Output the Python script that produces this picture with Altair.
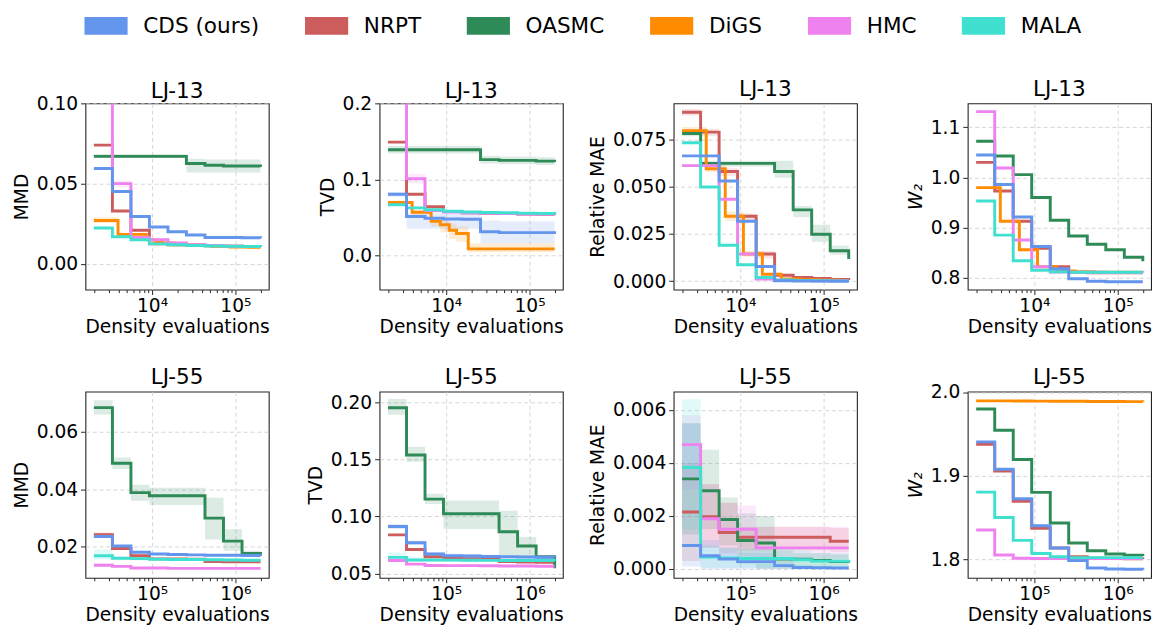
import altair as alt
import pandas as pd

METHODS = ["CDS (ours)", "NRPT", "OASMC", "DiGS", "HMC", "MALA"]
COLORS = ["#6495ED", "#CD5C5C", "#2E8B57", "#FF8C00", "#EE82EE", "#40E0D0"]
DRAW_ORDER = ["NRPT", "OASMC", "DiGS", "HMC", "MALA", "CDS (ours)"]

# density-evaluation checkpoints
EVALS_LJ13 = [2000, 3340, 5570, 9280, 15500, 25800, 43100, 71900, 120000, 200000]
EVALS_LJ13_DIGS = [2000, 3900, 6600, 8500, 10900, 13300, 18400, 31000, 52000, 86000, 144000, 200000]
EVALS_LJ55 = [20000, 33400, 55700, 92800, 155000, 258000, 431000, 719000, 1200000, 2000000]

XDOMAIN_LJ13 = [1585, 251189]
XDOMAIN_LJ55 = [15849, 2511886]
XTICKS_LJ13 = [2000, 3000, 4000, 5000, 6000, 7000, 8000, 9000, 10000,
               20000, 30000, 40000, 50000, 60000, 70000, 80000, 90000, 100000, 200000]
XTICKS_LJ55 = [20000, 30000, 40000, 50000, 60000, 70000, 80000, 90000, 100000,
               200000, 300000, 400000, 500000, 600000, 700000, 800000, 900000, 1000000, 2000000]

# ---------------- LJ-13 ----------------
LJ13_MMD = {
    "CDS (ours)": [0.0594, 0.0451, 0.0295, 0.0230, 0.0200, 0.0180, 0.0165, 0.0165, 0.0163, 0.0160],
    "NRPT": [0.0740, 0.0330, 0.0210, 0.0125, 0.0120, 0.0118, 0.0113, 0.0110, 0.0108, 0.0105],
    "OASMC": [0.0670, 0.0670, 0.0670, 0.0670, 0.0670, 0.0625, 0.0615, 0.0610, 0.0610, 0.0605],
    "DiGS": [0.0271, 0.0184, 0.0184, 0.0150, 0.0140, 0.0130, 0.0120, 0.0115, 0.0110, 0.0105, 0.0103, 0.0103],
    "HMC": [0.2500, 0.0500, 0.0165, 0.0150, 0.0130, 0.0120, 0.0115, 0.0110, 0.0108, 0.0105],
    "MALA": [0.0224, 0.0169, 0.0150, 0.0125, 0.0120, 0.0115, 0.0112, 0.0110, 0.0108, 0.0105],
}
LJ13_MMD_BAND = {
    "OASMC": ([0.0660, 0.0660, 0.0660, 0.0660, 0.0660, 0.0570, 0.0570, 0.0570, 0.0570, 0.0570],
              [0.0685, 0.0685, 0.0685, 0.0685, 0.0685, 0.0655, 0.0650, 0.0650, 0.0650, 0.0650]),
    "HMC": ([0.2400, 0.0480, 0.0155, 0.0142, 0.0124, 0.0115, 0.0110, 0.0105, 0.0104, 0.0100],
            [0.2600, 0.0520, 0.0175, 0.0158, 0.0136, 0.0125, 0.0120, 0.0115, 0.0112, 0.0110]),
    "DiGS": ([0.0255, 0.0175, 0.0175, 0.0143, 0.0134, 0.0124, 0.0115, 0.0110, 0.0105, 0.0100, 0.0098, 0.0098],
             [0.0290, 0.0193, 0.0193, 0.0157, 0.0146, 0.0136, 0.0125, 0.0120, 0.0115, 0.0110, 0.0108, 0.0108]),
}

LJ13_TVD = {
    "CDS (ours)": [0.0805, 0.0512, 0.0490, 0.0480, 0.0475, 0.0310, 0.0300, 0.0300, 0.0300, 0.0280],
    "NRPT": [0.1490, 0.0805, 0.0640, 0.0577, 0.0560, 0.0555, 0.0550, 0.0545, 0.0540, 0.0535],
    "OASMC": [0.1390, 0.1390, 0.1390, 0.1390, 0.1390, 0.1260, 0.1250, 0.1250, 0.1240, 0.1230],
    "DiGS": [0.0697, 0.0568, 0.0448, 0.0404, 0.0332, 0.0288, 0.0086, 0.0086, 0.0086, 0.0086, 0.0086, 0.0086],
    "HMC": [0.5000, 0.1010, 0.0590, 0.0570, 0.0560, 0.0555, 0.0550, 0.0545, 0.0540, 0.0540],
    "MALA": [0.0667, 0.0625, 0.0600, 0.0580, 0.0570, 0.0565, 0.0560, 0.0555, 0.0550, 0.0540],
}
LJ13_TVD_BAND = {
    "OASMC": ([0.134, 0.134, 0.134, 0.134, 0.134, 0.121, 0.120, 0.120, 0.119, 0.118],
              [0.144, 0.144, 0.144, 0.144, 0.144, 0.131, 0.130, 0.130, 0.129, 0.128]),
    "CDS (ours)": ([0.077, 0.035, 0.035, 0.035, 0.035, 0.016, 0.016, 0.016, 0.016, 0.015],
                   [0.083, 0.055, 0.055, 0.055, 0.055, 0.046, 0.045, 0.045, 0.045, 0.044]),
    "DiGS": ([0.067, 0.053, 0.038, 0.030, 0.022, 0.018, 0.004, 0.004, 0.004, 0.004, 0.004, 0.004],
             [0.072, 0.060, 0.050, 0.048, 0.042, 0.038, 0.016, 0.016, 0.016, 0.016, 0.016, 0.016]),
    "HMC": ([0.490, 0.095, 0.056, 0.055, 0.054, 0.0535, 0.053, 0.0525, 0.052, 0.052],
            [0.510, 0.107, 0.062, 0.059, 0.058, 0.0575, 0.057, 0.0565, 0.056, 0.056]),
}

LJ13_MAE = {
    "CDS (ours)": [0.0666, 0.0666, 0.0532, 0.0318, 0.0078, 0.0002, 0.0001, 0.0000, 0.0000, 0.0000],
    "NRPT": [0.0898, 0.0792, 0.0583, 0.0345, 0.0144, 0.0031, 0.0019, 0.0014, 0.0009, 0.0006],
    "OASMC": [0.0785, 0.0626, 0.0626, 0.0626, 0.0626, 0.0583, 0.0379, 0.0249, 0.0162, 0.0118],
    "DiGS": [0.0800, 0.0597, 0.0345, 0.0345, 0.0144, 0.0144, 0.0037, 0.0012, 0.0008, 0.0005, 0.0003, 0.0003],
    "HMC": [0.0614, 0.0614, 0.0435, 0.0144, 0.0011, 0.0005, 0.0003, 0.0002, 0.0001, 0.0001],
    "MALA": [0.0736, 0.0500, 0.0191, 0.0087, 0.0019, 0.0006, 0.0003, 0.0002, 0.0001, 0.0001],
}
LJ13_MAE_BAND = {
    "OASMC": ([0.0770, 0.0610, 0.0610, 0.0610, 0.0610, 0.0550, 0.0340, 0.0210, 0.0140, 0.0100],
              [0.0800, 0.0640, 0.0640, 0.0640, 0.0640, 0.0640, 0.0400, 0.0300, 0.0190, 0.0140]),
    "NRPT": ([0.0880, 0.0770, 0.0560, 0.0320, 0.0120, 0.0020, 0.0010, 0.0008, 0.0004, 0.0002],
             [0.0915, 0.0810, 0.0600, 0.0360, 0.0160, 0.0040, 0.0027, 0.0020, 0.0014, 0.0010]),
    "DiGS": ([0.0780, 0.0580, 0.0320, 0.0320, 0.0130, 0.0130, 0.0030, 0.0008, 0.0005, 0.0003, 0.0001, 0.0001],
             [0.0820, 0.0620, 0.0370, 0.0370, 0.0160, 0.0160, 0.0045, 0.0016, 0.0011, 0.0007, 0.0005, 0.0005]),
}

LJ13_W2 = {
    "CDS (ours)": [1.0446, 0.9860, 0.9210, 0.8625, 0.8180, 0.7980, 0.7930, 0.7920, 0.7920, 0.7920],
    "NRPT": [1.0300, 0.9730, 0.9126, 0.8590, 0.8220, 0.8103, 0.8100, 0.8100, 0.8100, 0.8100],
    "OASMC": [1.0720, 1.0427, 1.0056, 0.9600, 0.9145, 0.8833, 0.8670, 0.8560, 0.8410, 0.8330],
    "DiGS": [0.9796, 0.9126, 0.8560, 0.8560, 0.8220, 0.8220, 0.8137, 0.8120, 0.8110, 0.8110, 0.8110, 0.8110],
    "HMC": [1.1310, 1.0187, 0.8755, 0.8220, 0.8117, 0.8110, 0.8110, 0.8105, 0.8105, 0.8100],
    "MALA": [0.9530, 0.8850, 0.8340, 0.8150, 0.8120, 0.8110, 0.8110, 0.8110, 0.8110, 0.8110],
}

# ---------------- LJ-55 ----------------
LJ55_MMD = {
    "CDS (ours)": [0.0235, 0.0202, 0.0180, 0.0174, 0.0172, 0.0171, 0.0170, 0.0170, 0.0169, 0.0167],
    "NRPT": [0.0241, 0.0193, 0.0168, 0.0157, 0.0157, 0.0156, 0.0148, 0.0147, 0.0147, 0.0147],
    "OASMC": [0.0684, 0.0490, 0.0388, 0.0377, 0.0377, 0.0377, 0.0299, 0.0219, 0.0176, 0.0168],
    "HMC": [0.0135, 0.0131, 0.0125, 0.0125, 0.0124, 0.0124, 0.0124, 0.0124, 0.0124, 0.0124],
    "MALA": [0.0168, 0.0159, 0.0158, 0.0156, 0.0155, 0.0155, 0.0154, 0.0153, 0.0152, 0.0152],
}
LJ55_MMD_BAND = {
    "OASMC": ([0.0660, 0.0470, 0.0360, 0.0345, 0.0345, 0.0345, 0.0225, 0.0185, 0.0165, 0.0160],
              [0.0710, 0.0510, 0.0415, 0.0405, 0.0405, 0.0405, 0.0370, 0.0260, 0.0185, 0.0180]),
    "MALA": ([0.0155, 0.0153, 0.0152, 0.0151, 0.0150, 0.0150, 0.0149, 0.0148, 0.0147, 0.0147],
             [0.0190, 0.0165, 0.0164, 0.0161, 0.0160, 0.0160, 0.0159, 0.0158, 0.0157, 0.0157]),
    "NRPT": ([0.0232, 0.0187, 0.0163, 0.0153, 0.0153, 0.0152, 0.0145, 0.0144, 0.0144, 0.0144],
             [0.0250, 0.0199, 0.0173, 0.0161, 0.0161, 0.0160, 0.0151, 0.0150, 0.0150, 0.0150]),
    "HMC": ([0.0130, 0.0128, 0.0122, 0.0122, 0.0121, 0.0121, 0.0121, 0.0121, 0.0121, 0.0121],
            [0.0142, 0.0134, 0.0128, 0.0128, 0.0127, 0.0127, 0.0127, 0.0127, 0.0127, 0.0127]),
}

LJ55_TVD = {
    "CDS (ours)": [0.0913, 0.0770, 0.0671, 0.0657, 0.0655, 0.0650, 0.0648, 0.0645, 0.0643, 0.0640],
    "NRPT": [0.0839, 0.0711, 0.0648, 0.0640, 0.0630, 0.0628, 0.0605, 0.0602, 0.0600, 0.0597],
    "OASMC": [0.1952, 0.1539, 0.1152, 0.1024, 0.1024, 0.1024, 0.0867, 0.0742, 0.0648, 0.0548],
    "HMC": [0.0614, 0.0583, 0.0571, 0.0570, 0.0570, 0.0568, 0.0567, 0.0566, 0.0565, 0.0565],
    "MALA": [0.0642, 0.0620, 0.0619, 0.0618, 0.0617, 0.0616, 0.0615, 0.0614, 0.0614, 0.0613],
}
LJ55_TVD_BAND = {
    "OASMC": ([0.189, 0.148, 0.111, 0.089, 0.089, 0.089, 0.066, 0.065, 0.062, 0.055],
              [0.203, 0.161, 0.120, 0.114, 0.114, 0.114, 0.105, 0.082, 0.066, 0.065]),
    "MALA": ([0.0600, 0.0605, 0.0604, 0.0603, 0.0602, 0.0601, 0.0600, 0.0599, 0.0599, 0.0598],
             [0.0685, 0.0640, 0.0636, 0.0634, 0.0633, 0.0632, 0.0631, 0.0630, 0.0630, 0.0629]),
    "CDS (ours)": ([0.0890, 0.0750, 0.0655, 0.0640, 0.0638, 0.0634, 0.0632, 0.0630, 0.0628, 0.0625],
                   [0.0935, 0.0790, 0.0688, 0.0673, 0.0671, 0.0666, 0.0664, 0.0661, 0.0659, 0.0656]),
}

LJ55_MAE = {
    "CDS (ours)": [0.00089, 0.00050, 0.00038, 0.00028, 0.00028, 0.00013, 0.00006, 0.00005, 0.00004, 0.00004],
    "NRPT": [0.00215, 0.00197, 0.00138, 0.00120, 0.00120, 0.00120, 0.00120, 0.00120, 0.00105, 0.00105],
    "OASMC": [0.00340, 0.00295, 0.00187, 0.00108, 0.00098, 0.00038, 0.00037, 0.00032, 0.00028, 0.00025],
    "HMC": [0.00469, 0.00190, 0.00150, 0.00150, 0.00080, 0.00080, 0.00080, 0.00080, 0.00080, 0.00080],
    "MALA": [0.00383, 0.00045, 0.00042, 0.00040, 0.00040, 0.00040, 0.00035, 0.00030, 0.00030, 0.00025],
}
LJ55_MAE_BAND = {
    "MALA": ([0.00150, 0.00005, 0.00005, 0.00005, 0.00005, 0.00005, 0.00003, 0.00002, 0.00002, 0.00002],
             [0.00640, 0.00090, 0.00080, 0.00075, 0.00075, 0.00075, 0.00070, 0.00060, 0.00060, 0.00050]),
    "CDS (ours)": ([0.00010, 0.00000, 0.00000, 0.00000, 0.00000, 0.00000, 0.00000, 0.00000, 0.00000, 0.00000],
                   [0.00550, 0.00110, 0.00080, 0.00060, 0.00060, 0.00030, 0.00015, 0.00012, 0.00010, 0.00010]),
    "HMC": ([0.00300, 0.00080, 0.00050, 0.00050, 0.00040, 0.00040, 0.00040, 0.00040, 0.00040, 0.00040],
            [0.00580, 0.00320, 0.00250, 0.00240, 0.00160, 0.00160, 0.00160, 0.00160, 0.00160, 0.00160]),
    "NRPT": ([0.00030, 0.00080, 0.00060, 0.00070, 0.00070, 0.00070, 0.00070, 0.00070, 0.00065, 0.00065],
             [0.00400, 0.00320, 0.00250, 0.00160, 0.00160, 0.00160, 0.00160, 0.00160, 0.00155, 0.00155]),
    "OASMC": ([0.00130, 0.00150, 0.00090, 0.00020, 0.00000, 0.00000, 0.00000, 0.00000, 0.00000, 0.00000],
              [0.00550, 0.00450, 0.00270, 0.00210, 0.00200, 0.00070, 0.00060, 0.00060, 0.00055, 0.00050]),
}

LJ55_W2 = {
    "CDS (ours)": [1.9404, 1.9076, 1.8725, 1.8402, 1.8136, 1.7984, 1.7895, 1.7883, 1.7880, 1.7875],
    "NRPT": [1.9376, 1.9057, 1.8694, 1.8370, 1.8136, 1.8031, 1.8012, 1.8010, 1.8006, 1.8004],
    "OASMC": [1.9797, 1.9544, 1.9193, 1.8800, 1.8433, 1.8195, 1.8101, 1.8062, 1.8050, 1.8040],
    "DiGS": [1.9895, 1.9895, 1.9893, 1.9892, 1.9890, 1.9890, 1.9888, 1.9887, 1.9886, 1.9885],
    "HMC": [1.8351, 1.8051, 1.8012, 1.8010, 1.8010, 1.8010, 1.8010, 1.8010, 1.8010, 1.8010],
    "MALA": [1.8803, 1.8499, 1.8226, 1.8070, 1.8031, 1.8020, 1.8020, 1.8020, 1.8020, 1.8020],
}

FONT = "DejaVu Sans"
MAJOR = "abs(log(datum.value) / LN10 - round(log(datum.value) / LN10)) < 0.001"
LABEL_EXPR = ("datum.value == 1000 ? '10³' : datum.value == 10000 ? '10⁴' : "
              "datum.value == 100000 ? '10⁵' : datum.value == 1000000 ? '10⁶' : ''")

LEGEND = alt.Legend(
    orient="none", legendX=10, legendY=-90, direction="horizontal", columns=6,
    title=None, symbolType="M-2,-0.82H2V0.82H-2Z", symbolSize=484,
    symbolStrokeWidth=0, symbolOpacity=1, labelFontSize=22, labelFont=FONT,
    labelColor="black", labelOffset=27, columnPadding=46, padding=0, labelLimit=400,
)


def panel(title, ytitle, yfmt, ydomain, yticks, evals, digs_evals, xdomain, xticks,
          values, bands, title_dy, italic=False):
    rows = []
    for m in DRAW_ORDER:
        if m not in values:
            continue
        xs = digs_evals if m == "DiGS" else evals
        for x, v in zip(xs, values[m]):
            rows.append({"evals": x, "value": v, "method": m})
    line_df = pd.DataFrame(rows)

    xaxis = alt.Axis(
        values=xticks, labelExpr=LABEL_EXPR, title="Density evaluations",
        tickSize={"condition": {"test": MAJOR, "value": 5}, "value": 3},
        gridOpacity={"condition": {"test": MAJOR, "value": 1}, "value": 0},
        labelFlush=False, labelOverlap=False, labelPadding=2, titlePadding=3,
    )
    yaxis = alt.Axis(
        values=yticks, format=yfmt, title=ytitle, labelFlush=False, labelOverlap=False,
        titleFontStyle="italic" if italic else "normal",
    )
    xs = alt.Scale(type="log", domain=xdomain, nice=False)
    ys = alt.Scale(domain=ydomain, nice=False, zero=False)

    line = alt.Chart(line_df).mark_line(
        interpolate="step-after", strokeWidth=3, clip=True
    ).encode(
        x=alt.X("evals:Q", scale=xs, axis=xaxis),
        y=alt.Y("value:Q", scale=ys, axis=yaxis),
        color=alt.Color("method:N", scale=alt.Scale(domain=METHODS, range=COLORS), legend=None),
    )
    layers = []
    if bands:
        brow = []
        for m in DRAW_ORDER:
            if m not in bands:
                continue
            xs_ = digs_evals if m == "DiGS" else evals
            lo, hi = bands[m]
            for x, a, b in zip(xs_, lo, hi):
                brow.append({"evals": x, "lo": a, "hi": b, "method": m})
        band_df = pd.DataFrame(brow)
        area = alt.Chart(band_df).mark_area(
            interpolate="step-after", fillOpacity=0.17, clip=True
        ).encode(
            x=alt.X("evals:Q", scale=xs, axis=xaxis),
            y=alt.Y("lo:Q", scale=ys, axis=yaxis),
            y2="hi:Q",
            fill=alt.Fill("method:N", scale=alt.Scale(domain=METHODS, range=COLORS), legend=LEGEND),
        )
        layers.append(area)
    layers.append(line)
    return alt.layer(*layers).properties(
        width=187, height=190,
        title=alt.TitleParams(title, fontSize=22, fontWeight="normal", font=FONT, offset=4,
                              color="black", frame="group", dy=title_dy),
    )


panels = [
    panel("LJ-13", "MMD", ".2f", [-0.016, 0.10], [0.0, 0.05, 0.10], EVALS_LJ13, EVALS_LJ13_DIGS,
          XDOMAIN_LJ13, XTICKS_LJ13, LJ13_MMD, LJ13_MMD_BAND, 13),
    panel("LJ-13", "TVD", ".1f", [-0.045, 0.2], [0.0, 0.1, 0.2], EVALS_LJ13, EVALS_LJ13_DIGS,
          XDOMAIN_LJ13, XTICKS_LJ13, LJ13_TVD, LJ13_TVD_BAND, 13),
    panel("LJ-13", "Relative MAE", ".3f", [-0.0045, 0.0945], [0.0, 0.025, 0.05, 0.075], EVALS_LJ13,
          EVALS_LJ13_DIGS, XDOMAIN_LJ13, XTICKS_LJ13, LJ13_MAE, LJ13_MAE_BAND, 2),
    panel("LJ-13", "W₂", ".1f", [0.7765, 1.1475], [0.8, 0.9, 1.0, 1.1], EVALS_LJ13, EVALS_LJ13_DIGS,
          XDOMAIN_LJ13, XTICKS_LJ13, LJ13_W2, None, 2, italic=True),
    panel("LJ-55", "MMD", ".2f", [0.0091, 0.074], [0.02, 0.04, 0.06], EVALS_LJ55, EVALS_LJ55,
          XDOMAIN_LJ55, XTICKS_LJ55, LJ55_MMD, LJ55_MMD_BAND, 1),
    panel("LJ-55", "TVD", ".2f", [0.0463, 0.2094], [0.05, 0.10, 0.15, 0.20], EVALS_LJ55, EVALS_LJ55,
          XDOMAIN_LJ55, XTICKS_LJ55, LJ55_TVD, LJ55_TVD_BAND, 1),
    panel("LJ-55", "Relative MAE", ".3f", [-0.00033, 0.00669], [0.0, 0.002, 0.004, 0.006], EVALS_LJ55,
          EVALS_LJ55, XDOMAIN_LJ55, XTICKS_LJ55, LJ55_MAE, LJ55_MAE_BAND, 1),
    panel("LJ-55", "W₂", ".1f", [1.7778, 2.0006], [1.8, 1.9, 2.0], EVALS_LJ55, EVALS_LJ55,
          XDOMAIN_LJ55, XTICKS_LJ55, LJ55_W2, None, 10, italic=True),
]

chart = alt.concat(
    *panels, columns=4, spacing={"row": 104, "column": 113}, bounds="flush"
).resolve_scale(
    x="independent", y="independent"
).properties(
    padding={"left": 4, "top": 1, "right": 1, "bottom": 1}
).configure(
    font=FONT
).configure_view(
    stroke="#222222", strokeWidth=1.1
).configure_axis(
    labelFontSize=19, titleFontSize=19, titleFontWeight="normal", labelFont=FONT, titleFont=FONT,
    labelColor="black", titleColor="black", tickColor="#222222", domain=False,
    gridColor="#d0d0d0", gridDash=[4, 3], gridWidth=0.9, tickSize=5, labelPadding=3, titlePadding=5,
)

chart.save("out.html", embed_options={"renderer": "svg", "actions": False})
